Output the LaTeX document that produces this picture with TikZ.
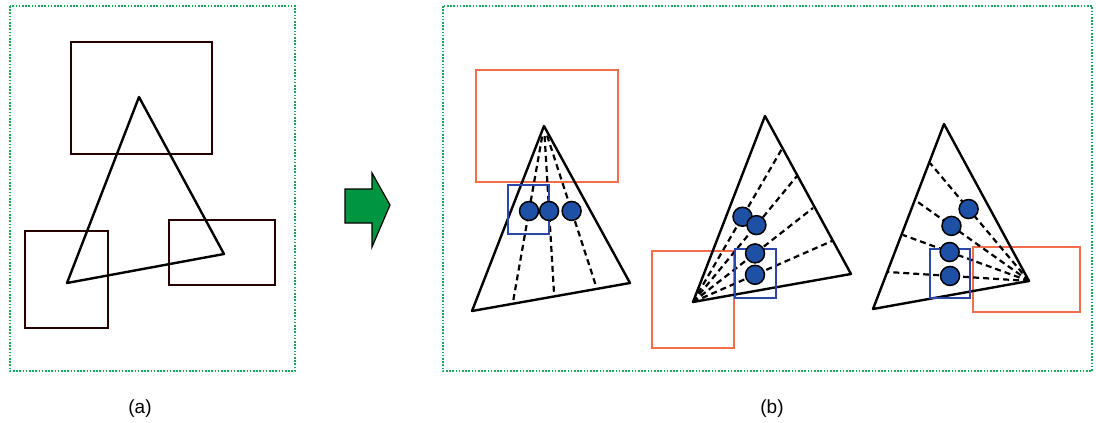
\documentclass[tikz,border=0pt]{standalone}
\usepackage{fontspec}
\setmainfont{Liberation Sans}
\usetikzlibrary{calc}
\definecolor{dotgreen}{RGB}{20,170,90}
\definecolor{orng}{RGB}{242,110,75}
\definecolor{bluebox}{RGB}{45,70,170}
\definecolor{dotblue}{RGB}{30,80,165}
\definecolor{arrgreen}{RGB}{0,150,65}
\tikzset{
  panel/.style={draw=dotgreen, line width=2pt, dash pattern=on 1.6pt off 1.6pt},
  tri/.style={draw=black, line width=2.4pt, line join=round},
  blk/.style={draw=black!85!red, line width=2.6pt},
  orbox/.style={draw=orng, line width=2.6pt},
  blbox/.style={draw=bluebox, line width=2.6pt},
  ray/.style={draw=black, line width=2.2pt, dash pattern=on 6pt off 4pt},
  dot/.style={circle, draw=black, line width=1.5pt, fill=dotblue, minimum size=19pt, inner sep=0pt},
  lab/.style={font=\fontsize{19}{22}\selectfont}
}
\begin{document}
\begin{tikzpicture}[x=1pt,y=-1pt]
\useasboundingbox[fill=white] (0,0) rectangle (1096,423);
% ---- panel (a)
\draw[panel] (10,6) rectangle (295,371);
\draw[blk] (71,42) rectangle (212,154);
\draw[blk] (25,231) rectangle (108,328);
\draw[blk] (169,220) rectangle (275,285);
\coordinate (aA) at (139,97);
\coordinate (aB) at (67,283);
\coordinate (aC) at (224,254);
\draw[tri] (aA) -- (aB) -- (aC) -- cycle;
\node[lab] (la) at (140,409) {(a)};
% ---- arrow
\draw[fill=arrgreen, draw=black, line width=1.2pt, line join=miter]
  (345,189) -- (372,189) -- (372,173) -- (390,205) -- (372,247) -- (372,223) -- (345,223) -- cycle;
% ---- panel (b)
\draw[panel] (443,6) rectangle (1092,371);
\node[lab] (lb) at (772,409) {(b)};
% triangle 1
\coordinate (pA) at (544,126);
\coordinate (pB) at (472,311);
\coordinate (pC) at (630,283);
\draw[orbox] (476,70) rectangle (618,182);
\coordinate (e11) at (513,302);
\coordinate (e12) at (554,293);
\coordinate (e13) at (596,286);
\foreach \e in {e11,e12,e13} \draw[ray] ($(pA)!0.06!(\e)$) -- (\e);
\draw[tri] (pA) -- (pB) -- (pC) -- cycle;
\draw[blbox] (508,185) rectangle (549,234);
\node[dot] (d11) at ($(pA)!0.483!(e11)$) {};
\node[dot] (d12) at ($(pA)!0.509!(e12)$) {};
\node[dot] (d13) at ($(pA)!0.531!(e13)$) {};
% triangle 2
\coordinate (qA) at (765,116);
\coordinate (qB) at (693,302);
\coordinate (qC) at (851,274);
\draw[orbox] (652,251) rectangle (734,348);
\coordinate (e21) at (783,147);
\coordinate (e22) at (797,176);
\coordinate (e23) at (813,208);
\coordinate (e24) at (832,241);
\foreach \e in {e21,e22,e23,e24} \draw[ray] (qB) -- (\e);
\draw[tri] (qA) -- (qB) -- (qC) -- cycle;
\draw[blbox] (735,249) rectangle (776,298);
\node[dot] (d21) at ($(qB)!0.55!(e21)$) {};
\node[dot] (d22) at ($(qB)!0.61!(e22)$) {};
\node[dot] (d23) at ($(qB)!0.517!(e23)$) {};
\node[dot] (d24) at ($(qB)!0.446!(e24)$) {};
% triangle 3
\coordinate (rA) at (944,124);
\coordinate (rB) at (873,309);
\coordinate (rC) at (1029,281);
\draw[orbox] (973,247) rectangle (1080,312);
\coordinate (e31) at (930,163);
\coordinate (e32) at (915,200);
\coordinate (e33) at (903,235);
\coordinate (e34) at (888,272);
\foreach \e in {e31,e32,e33,e34} \draw[ray] (rC) -- (\e);
\draw[tri] (rA) -- (rB) -- (rC) -- cycle;
\draw[blbox] (930,249) rectangle (970,298);
\node[dot] (d31) at ($(rC)!0.61!(e31)$) {};
\node[dot] (d32) at ($(rC)!0.68!(e32)$) {};
\node[dot] (d33) at ($(rC)!0.63!(e33)$) {};
\node[dot] (d34) at ($(rC)!0.56!(e34)$) {};
\end{tikzpicture}
\end{document}
